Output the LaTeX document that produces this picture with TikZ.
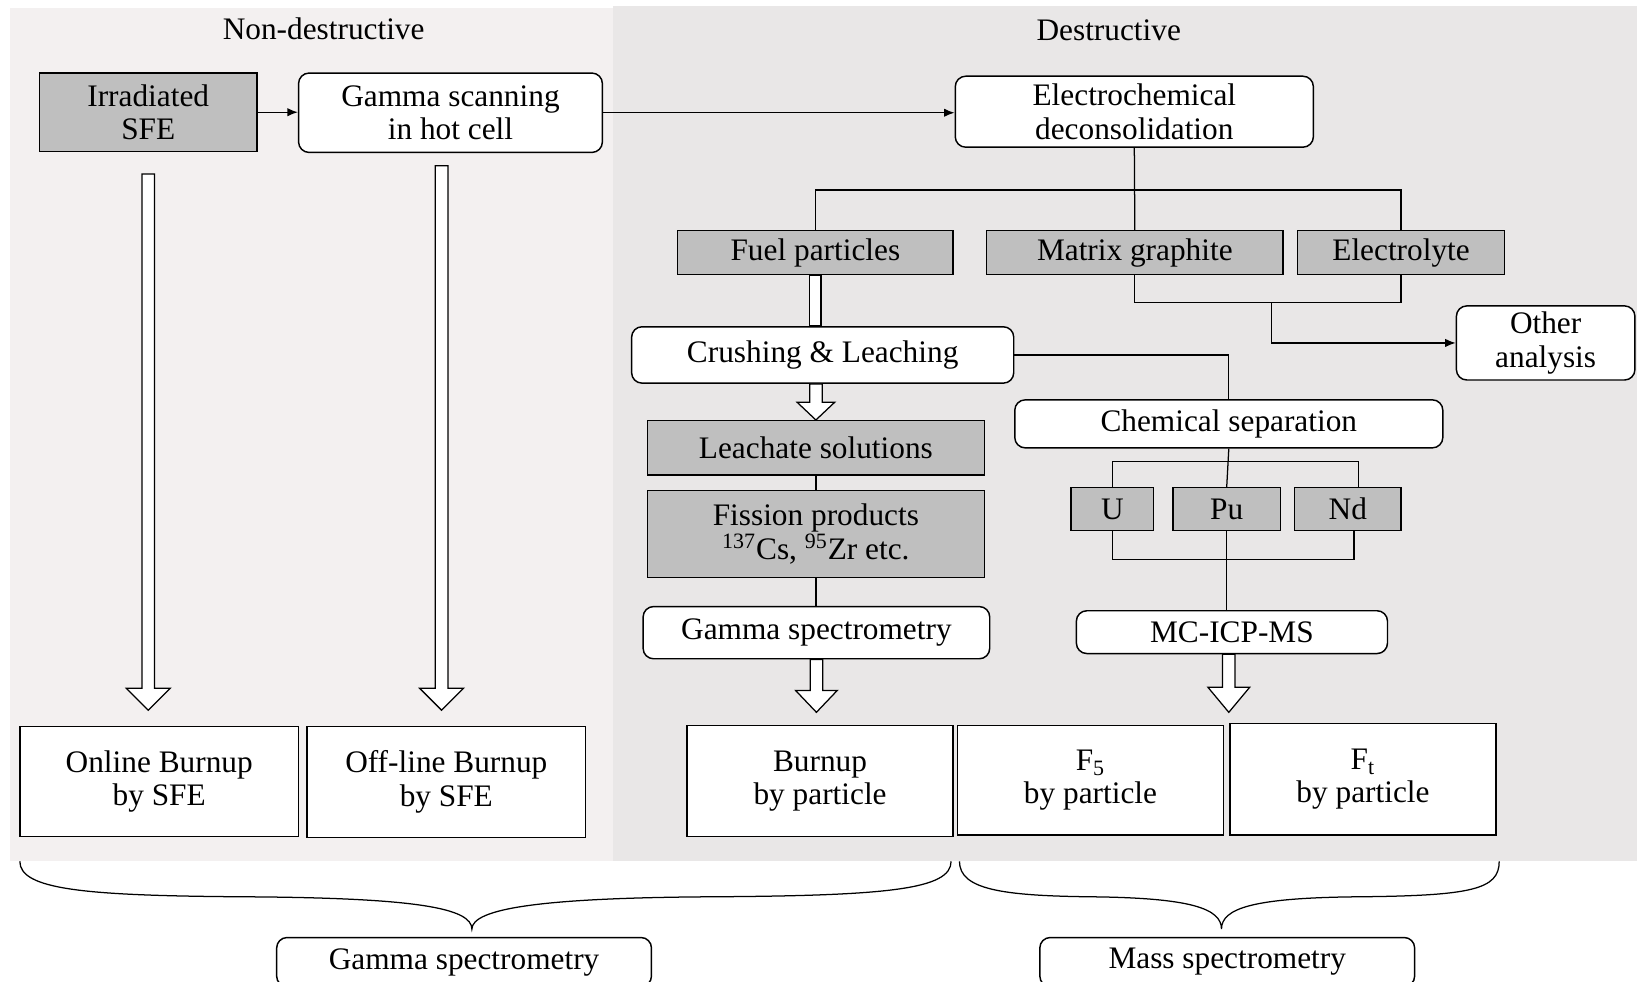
\documentclass[tikz,border=0pt]{standalone}
\usepackage{fontspec}
\setmainfont{Liberation Serif}
\usetikzlibrary{arrows.meta,calc}
\definecolor{ndbg}{RGB}{243,240,240}
\definecolor{dbg}{RGB}{233,231,231}
\definecolor{gbox}{RGB}{191,191,191}
\newcommand{\hollowarr}[4]{%
  \draw[hollow] ($(#1)+(-6,0)$) -- ($(#2)+(-6,#4)$) -- ($(#2)+(-#3,#4)$) -- (#2)
     -- ($(#2)+(#3,#4)$) -- ($(#2)+(6,#4)$) -- ($(#1)+(6,0)$) -- cycle;}
\begin{document}
\begin{tikzpicture}[x=0.5pt,y=0.5pt,
  every node/.style={font=\fontsize{15}{16}\selectfont, align=center, inner sep=0pt},
  sz/.style 2 args={minimum width=#1*0.5pt, minimum height=#2*0.5pt},
  graybox/.style={draw, fill=gbox, line width=0.7pt},
  roundbox/.style={draw, fill=white, rounded corners=5pt, line width=0.7pt},
  whitebox/.style={draw, fill=white, line width=0.7pt},
  conn/.style={draw, line width=0.6pt},
  arr/.style={conn, -{Latex[length=5pt,width=4pt]}},
  hollow/.style={draw, fill=white, line width=0.6pt, line join=miter},
  bracestyle/.style={draw, line width=0.6pt}]
\useasboundingbox (0,0) rectangle (1568,-940);
\clip (0,0) rectangle (1568,-940);
% panels
\fill[ndbg] (10,-8) rectangle (587,-825);
\fill[dbg] (587,-6) rectangle (1568,-825);
\node (tnd) at (310,-28) {Non-destructive};
\node (td) at (1062,-29) {Destructive};
% top row
\node[graybox, sz={208}{75}] (irr) at (142,-107.5) {Irradiated\\SFE};
\node[roundbox, sz={291}{76}] (gscan) at (431.5,-108) {Gamma scanning\\in hot cell};
\node[roundbox, sz={343}{68}] (elec) at (1086.5,-107) {Electrochemical\\deconsolidation};
% second row
\node[graybox, sz={264}{42}] (fuel) at (781,-242) {Fuel particles};
\node[graybox, sz={284}{42}] (matrix) at (1087,-242) {Matrix graphite};
\node[graybox, sz={198}{42}] (electrolyte) at (1342,-242) {Electrolyte};
\node[roundbox, sz={171}{71}] (other) at (1480.5,-328.5) {Other\\analysis};
% middle
\node[roundbox, sz={366}{54}] (crush) at (788,-340) {Crushing \& Leaching};
\node[graybox, sz={323}{52}] (leach) at (781.5,-429) {Leachate solutions};
\node[graybox, sz={323}{83}] (fission) at (781.5,-511.5) {Fission products\\\textsuperscript{137}Cs, \textsuperscript{95}Zr etc.};
\node[roundbox, sz={332}{50}] (gspec) at (782,-606) {Gamma spectrometry};
\node[roundbox, sz={410}{46}] (chem) at (1177,-406) {Chemical separation};
\node[graybox, sz={79}{41}] (U) at (1065.5,-487.5) {U};
\node[graybox, sz={103}{41}] (Pu) at (1175,-487.5) {Pu};
\node[graybox, sz={102}{41}] (Nd) at (1291,-487.5) {Nd};
\node[roundbox, sz={298}{41}] (mc) at (1180,-605.5) {MC-ICP-MS};
% bottom boxes
\node[whitebox, sz={267}{105}] (online) at (152.5,-748.5) {Online Burnup\\by SFE};
\node[whitebox, sz={267}{106}] (offline) at (427.5,-749) {Off-line Burnup\\by SFE};
\node[whitebox, sz={255}{106}] (burnup) at (785.5,-748) {Burnup\\by particle};
\node[whitebox, sz={255}{105}] (f5) at (1044.5,-747.5) {F\textsubscript{5}\\by particle};
\node[whitebox, sz={255}{107}] (ft) at (1305.5,-746.5) {F\textsubscript{t}\\by particle};
\node[roundbox, sz={359}{47}] (gs2) at (444.5,-921.5) {Gamma spectrometry};
\node[roundbox, sz={359}{47}] (ms2) at (1175.5,-921.5) {Mass spectrometry};
% thin connectors
\draw[arr] (irr.east) -- (gscan.west |- irr.east);
\draw[arr] (gscan.east) -- (gscan.east -| elec.west);
\coordinate (bar) at (1090,-182);
\draw[conn] (elec.south) -- (matrix.north);
\draw[conn] (fuel.north) |- (bar) -| (electrolyte.north);
\coordinate (mj) at (1218,-290);
\draw[conn] (matrix.south) |- (mj) -| (electrolyte.south);
\draw[arr] (mj) |- (other.west);
\draw[conn] (crush.east) -| (chem.north);
\draw[conn] (leach.south) -- (fission.north);
\draw[conn] (fission.south) -- (fission.south |- gspec.north);
\coordinate (cb) at (1177,-442);
\coordinate (cb2) at (1177,-536);
\draw[conn] (chem.south) -- (Pu.north);
\draw[conn] (U.north) |- (cb) -| ($(Nd.north)+(10,0)$);
\draw[conn] (U.south) |- (cb2) -| ($(Nd.south)+(6,0)$);
\draw[conn] (Pu.south) -- (Pu.south |- mc.north);
% hollow arrows
\coordinate (a1s) at ($(irr.south)+(0,-21)$);
\coordinate (a1e) at ($(a1s |- online.north)+(0,15)$);
\hollowarr{a1s}{a1e}{21}{21}
\coordinate (a2s) at ($(gscan.south)+(-8.5,-12)$);
\coordinate (a2e) at ($(a2s |- offline.north)+(0,15)$);
\hollowarr{a2s}{a2e}{21}{21}
\draw[hollow] ($(fuel.south)+(-5.5,0)$) rectangle ($(fuel.south |- crush.north)+(5.5,0)$);
\coordinate (a3s) at ($(leach.north |- crush.south)$);
\coordinate (a3e) at (leach.north);
\hollowarr{a3s}{a3e}{18}{17}
\coordinate (a4s) at (gspec.south);
\coordinate (a4e) at ($(a4s |- burnup.north)+(0,12)$);
\hollowarr{a4s}{a4e}{20}{21}
\coordinate (a5s) at ($(mc.south)+(-3,0)$);
\coordinate (a5e) at ($(a5s |- f5.north)+(0,12)$);
\hollowarr{a5s}{a5e}{20}{24}
% braces
\draw[bracestyle] (19,-825) .. controls (19,-852) and (80,-858) .. (235,-859)
   .. controls (400,-860) and (452,-870) .. (452,-890)
   .. controls (452,-870) and (520,-860) .. (680,-859)
   .. controls (850,-858) and (911,-852) .. (911,-825);
\draw[bracestyle] (919,-825) .. controls (919,-852) and (960,-858) .. (1045,-859)
   .. controls (1140,-860) and (1170,-870) .. (1170,-890)
   .. controls (1170,-870) and (1200,-860) .. (1300,-859)
   .. controls (1410,-858) and (1436,-852) .. (1436,-825);
\end{tikzpicture}
\end{document}
